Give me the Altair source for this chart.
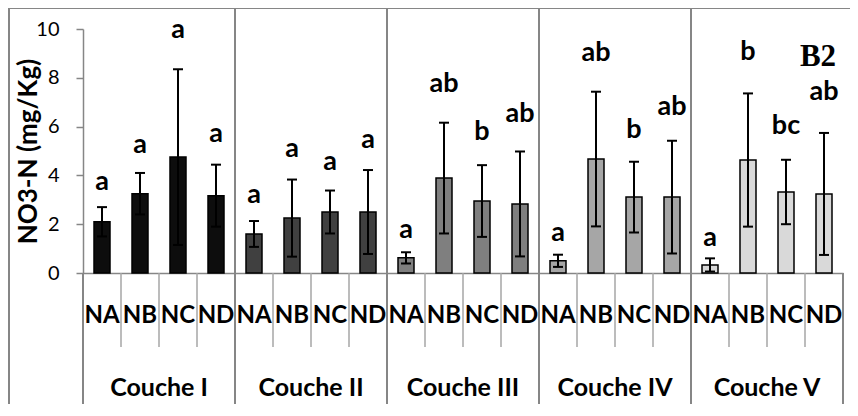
import altair as alt
import pandas as pd

# ---- data ----
couches = ["Couche I", "Couche II", "Couche III", "Couche IV", "Couche V"]
treatments = ["NA", "NB", "NC", "ND"]
means = [2.10, 3.25, 4.75, 3.17,
         1.60, 2.25, 2.50, 2.50,
         0.62, 3.89, 2.95, 2.83,
         0.50, 4.67, 3.11, 3.11,
         0.33, 4.63, 3.32, 3.24]
errors = [0.60, 0.85, 3.60, 1.27,
          0.53, 1.58, 0.88, 1.72,
          0.23, 2.27, 1.47, 2.15,
          0.25, 2.76, 1.45, 2.31,
          0.27, 2.73, 1.32, 2.50]
letters = ["a", "a", "a", "a",
           "a", "a", "a", "a",
           "a", "ab", "b", "ab",
           "a", "ab", "b", "ab",
           "a", "b", "bc", "ab"]
letter_heights = [3.40, 4.92, 9.63, 5.37,
                  2.87, 4.75, 4.22, 5.12,
                  1.43, 7.42, 5.45, 6.19,
                  1.31, 8.69, 5.53, 6.48,
                  1.11, 8.73, 5.70, 7.09]
y_ticks = [0, 2, 4, 6, 8, 10]
y_title = "NO3-N (mg/Kg)"
panel_tag = "B2"
fills = ["#0d0d0d", "#404040", "#7f7f7f", "#a6a6a6", "#d9d9d9"]

# ---- tables built from the lists ----
nt = len(treatments)
rows = []
for gi, c in enumerate(couches):
    for ti, t in enumerate(treatments):
        k = gi * nt + ti
        rows.append(dict(pos=k, couche=c, trt=t, mean=means[k],
                         lo=means[k] - errors[k], hi=means[k] + errors[k],
                         letter=letters[k], ly=letter_heights[k]))
df = pd.DataFrame(rows)
n = len(df)

groups = pd.DataFrame(dict(couche=couches,
                           center=[gi * nt + (nt - 1) / 2 for gi in range(len(couches))]))
inner_bounds = pd.DataFrame(dict(b=[gi * nt - 0.5 for gi in range(1, len(couches))]))
outer_bounds = pd.DataFrame(dict(b=[-0.5, n - 0.5]))
sub_bounds = pd.DataFrame(dict(b=[i - 0.5 for i in range(1, n) if i % nt != 0]))
one = pd.DataFrame(dict(k=[0]))

AX = "#868686"
FONT = "Lato"

xscale = alt.Scale(domain=[-0.5, n - 0.5], nice=False, zero=False, padding=0)
yscale = alt.Scale(domain=[0, 10], nice=False, padding=0)

xaxis = alt.Axis(labels=False, ticks=False, grid=False, domain=True,
                 domainColor=AX, domainWidth=1.5, title=None)
yaxis = alt.Axis(values=y_ticks, title=y_title, grid=False,
                 tickSize=7, tickColor=AX, tickWidth=1.5,
                 domainColor=AX, domainWidth=1.5,
                 labelFont=FONT, labelFontSize=20, labelColor="black",
                 labelPadding=17,
                 titleFont=FONT, titleFontWeight="bold", titleFontSize=26,
                 titleColor="black", titleX=-55, titleY=122,
                 titleAlign="center", titleBaseline="middle")

bars = alt.Chart(df).mark_bar(width=16, stroke="black", strokeWidth=1.5,
                              orient="vertical").encode(
    x=alt.X("pos:Q", scale=xscale, axis=xaxis),
    y=alt.Y("mean:Q", scale=yscale, axis=yaxis),
    color=alt.Color("couche:N", scale=alt.Scale(domain=couches, range=fills), legend=None),
)
err = alt.Chart(df).mark_rule(strokeWidth=2, color="black").encode(
    x=alt.X("pos:Q", scale=xscale), y=alt.Y("lo:Q", scale=yscale), y2="hi:Q")
cap_hi = alt.Chart(df).mark_tick(orient="horizontal", size=10, thickness=2,
                                 color="black", opacity=1).encode(
    x=alt.X("pos:Q", scale=xscale), y=alt.Y("hi:Q", scale=yscale))
cap_lo = alt.Chart(df).mark_tick(orient="horizontal", size=10, thickness=2,
                                 color="black", opacity=1).encode(
    x=alt.X("pos:Q", scale=xscale), y=alt.Y("lo:Q", scale=yscale))
lett = alt.Chart(df).mark_text(font=FONT, fontWeight="bold", fontSize=27,
                               baseline="alphabetic", align="center",
                               color="black").encode(
    x=alt.X("pos:Q", scale=xscale), y=alt.Y("ly:Q", scale=yscale), text="letter:N")

trt_labels = alt.Chart(df).mark_text(font=FONT, fontWeight="bold", fontSize=24,
                                     baseline="middle", align="center",
                                     color="black").encode(
    x=alt.X("pos:Q", scale=xscale), y=alt.value(287), text="trt:N")
group_labels = alt.Chart(groups).mark_text(font=FONT, fontWeight="bold", fontSize=25,
                                           baseline="middle", align="center",
                                           color="black").encode(
    x=alt.X("center:Q", scale=xscale), y=alt.value(359), text="couche:N")

sep_inner = alt.Chart(inner_bounds).mark_rule(color=AX, strokeWidth=2).encode(
    x=alt.X("b:Q", scale=xscale), y=alt.value(-21), y2=alt.value(400))
sep_outer = alt.Chart(outer_bounds).mark_rule(color=AX, strokeWidth=2).encode(
    x=alt.X("b:Q", scale=xscale), y=alt.value(244), y2=alt.value(400))
sep_sub = alt.Chart(sub_bounds).mark_rule(color="#a6a6a6", strokeWidth=1.5).encode(
    x=alt.X("b:Q", scale=xscale), y=alt.value(244), y2=alt.value(318))

frame_top = alt.Chart(one).mark_rule(color=AX, strokeWidth=2).encode(
    x=alt.value(-76), x2=alt.value(790), y=alt.value(-21))
frame_left = alt.Chart(one).mark_rule(color=AX, strokeWidth=2).encode(
    x=alt.value(-74), y=alt.value(-21), y2=alt.value(400))

tag = alt.Chart(one).mark_text(font="Liberation Serif", fontWeight="bold", fontSize=31,
                               baseline="middle", align="center", color="black").encode(
    x=alt.value(735), y=alt.value(28), text=alt.value(panel_tag))

chart = alt.layer(
    frame_top, frame_left, sep_inner, sep_outer, sep_sub,
    bars, err, cap_hi, cap_lo, lett, trt_labels, group_labels, tag
).properties(
    width=760, height=244,
    autosize=alt.AutoSizeParams(type="none"),
    padding={"left": 75, "top": 21, "right": 7, "bottom": 131},
).configure_view(stroke="transparent")

chart.save("out.html", embed_options={"renderer": "svg", "actions": False})
